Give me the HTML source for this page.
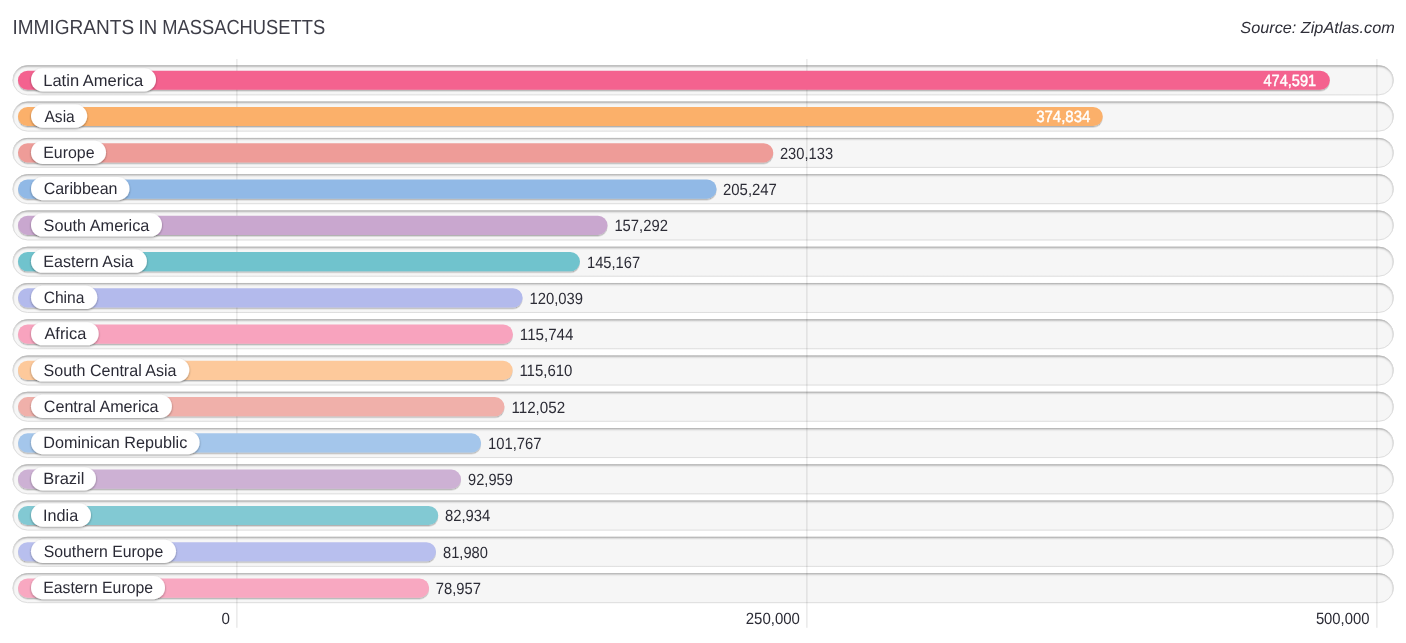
<!DOCTYPE html>
<html lang="en"><head><meta charset="utf-8"><title>Immigrants in Massachusetts</title>
<style>
html,body{margin:0;padding:0;background:#fff;}
body{width:1406px;height:643px;overflow:hidden;}
svg{display:block;font-family:"Liberation Sans",Arial,sans-serif;text-rendering:geometricPrecision;}
.t{font-size:20.4px;fill:#3e3e48;}
.s{font-size:16px;font-style:italic;fill:#2e2e38;}
.l{font-size:16.5px;fill:#2b2b36;}
.v{font-size:16.2px;fill:#2c2c36;}
.w{font-size:16.2px;fill:#fff;stroke:#fff;stroke-width:0.45px;}
</style></head><body>
<svg width="1406" height="643" viewBox="0 0 1406 643">
<defs>
<filter id="bs" x="-2%" y="-30%" width="104%" height="170%"><feDropShadow dx="0" dy="1.4" stdDeviation="0.7" flood-color="#000" flood-opacity="0.28"/></filter>
<filter id="ps" x="-5%" y="-30%" width="110%" height="170%"><feDropShadow dx="0" dy="1" stdDeviation="0.8" flood-color="#000" flood-opacity="0.4"/></filter>
<filter id="bl" x="-2%" y="-50%" width="104%" height="200%"><feGaussianBlur stdDeviation="0.9"/></filter>
<linearGradient id="tg" x1="0" y1="0" x2="0" y2="1"><stop offset="0" stop-color="#b9b9b9"/><stop offset="0.07" stop-color="#c6c6c6"/><stop offset="0.22" stop-color="#d9d9d9"/><stop offset="1" stop-color="#dedede"/></linearGradient>
<clipPath id="tc"><rect x="12.6" y="0" width="1381.1" height="30" rx="15"/></clipPath>
</defs>

<text class="t" y="34"><tspan id="t0" x="12.48" textLength="121.62" lengthAdjust="spacingAndGlyphs">IMMIGRANTS</tspan> <tspan id="t1" x="138.57" textLength="18.63" lengthAdjust="spacingAndGlyphs">IN</tspan> <tspan id="t2" x="162.24" textLength="162.91" lengthAdjust="spacingAndGlyphs">MASSACHUSETTS</tspan></text>
<text class="s" id="src" x="1240.33" y="32.85" textLength="154.37" lengthAdjust="spacingAndGlyphs">Source: ZipAtlas.com</text>
<g transform="translate(0 65.35)"><rect x="12.6" y="0" width="1381.1" height="30.0" rx="15" fill="#f6f6f6"/><g clip-path="url(#tc)"><rect x="11.1" y="-0.3" width="1384.1" height="40" rx="16" fill="none" stroke="#000" stroke-opacity="0.3" stroke-width="3" filter="url(#bl)"/></g><rect x="13.1" y="0.5" width="1380.1" height="29.0" rx="14.5" fill="none" stroke="url(#tg)"/></g>
<g transform="translate(0 101.62)"><rect x="12.6" y="0" width="1381.1" height="30.0" rx="15" fill="#f6f6f6"/><g clip-path="url(#tc)"><rect x="11.1" y="-0.3" width="1384.1" height="40" rx="16" fill="none" stroke="#000" stroke-opacity="0.3" stroke-width="3" filter="url(#bl)"/></g><rect x="13.1" y="0.5" width="1380.1" height="29.0" rx="14.5" fill="none" stroke="url(#tg)"/></g>
<g transform="translate(0 137.89)"><rect x="12.6" y="0" width="1381.1" height="30.0" rx="15" fill="#f6f6f6"/><g clip-path="url(#tc)"><rect x="11.1" y="-0.3" width="1384.1" height="40" rx="16" fill="none" stroke="#000" stroke-opacity="0.3" stroke-width="3" filter="url(#bl)"/></g><rect x="13.1" y="0.5" width="1380.1" height="29.0" rx="14.5" fill="none" stroke="url(#tg)"/></g>
<g transform="translate(0 174.16)"><rect x="12.6" y="0" width="1381.1" height="30.0" rx="15" fill="#f6f6f6"/><g clip-path="url(#tc)"><rect x="11.1" y="-0.3" width="1384.1" height="40" rx="16" fill="none" stroke="#000" stroke-opacity="0.3" stroke-width="3" filter="url(#bl)"/></g><rect x="13.1" y="0.5" width="1380.1" height="29.0" rx="14.5" fill="none" stroke="url(#tg)"/></g>
<g transform="translate(0 210.43)"><rect x="12.6" y="0" width="1381.1" height="30.0" rx="15" fill="#f6f6f6"/><g clip-path="url(#tc)"><rect x="11.1" y="-0.3" width="1384.1" height="40" rx="16" fill="none" stroke="#000" stroke-opacity="0.3" stroke-width="3" filter="url(#bl)"/></g><rect x="13.1" y="0.5" width="1380.1" height="29.0" rx="14.5" fill="none" stroke="url(#tg)"/></g>
<g transform="translate(0 246.70)"><rect x="12.6" y="0" width="1381.1" height="30.0" rx="15" fill="#f6f6f6"/><g clip-path="url(#tc)"><rect x="11.1" y="-0.3" width="1384.1" height="40" rx="16" fill="none" stroke="#000" stroke-opacity="0.3" stroke-width="3" filter="url(#bl)"/></g><rect x="13.1" y="0.5" width="1380.1" height="29.0" rx="14.5" fill="none" stroke="url(#tg)"/></g>
<g transform="translate(0 282.97)"><rect x="12.6" y="0" width="1381.1" height="30.0" rx="15" fill="#f6f6f6"/><g clip-path="url(#tc)"><rect x="11.1" y="-0.3" width="1384.1" height="40" rx="16" fill="none" stroke="#000" stroke-opacity="0.3" stroke-width="3" filter="url(#bl)"/></g><rect x="13.1" y="0.5" width="1380.1" height="29.0" rx="14.5" fill="none" stroke="url(#tg)"/></g>
<g transform="translate(0 319.24)"><rect x="12.6" y="0" width="1381.1" height="30.0" rx="15" fill="#f6f6f6"/><g clip-path="url(#tc)"><rect x="11.1" y="-0.3" width="1384.1" height="40" rx="16" fill="none" stroke="#000" stroke-opacity="0.3" stroke-width="3" filter="url(#bl)"/></g><rect x="13.1" y="0.5" width="1380.1" height="29.0" rx="14.5" fill="none" stroke="url(#tg)"/></g>
<g transform="translate(0 355.51)"><rect x="12.6" y="0" width="1381.1" height="30.0" rx="15" fill="#f6f6f6"/><g clip-path="url(#tc)"><rect x="11.1" y="-0.3" width="1384.1" height="40" rx="16" fill="none" stroke="#000" stroke-opacity="0.3" stroke-width="3" filter="url(#bl)"/></g><rect x="13.1" y="0.5" width="1380.1" height="29.0" rx="14.5" fill="none" stroke="url(#tg)"/></g>
<g transform="translate(0 391.78)"><rect x="12.6" y="0" width="1381.1" height="30.0" rx="15" fill="#f6f6f6"/><g clip-path="url(#tc)"><rect x="11.1" y="-0.3" width="1384.1" height="40" rx="16" fill="none" stroke="#000" stroke-opacity="0.3" stroke-width="3" filter="url(#bl)"/></g><rect x="13.1" y="0.5" width="1380.1" height="29.0" rx="14.5" fill="none" stroke="url(#tg)"/></g>
<g transform="translate(0 428.05)"><rect x="12.6" y="0" width="1381.1" height="30.0" rx="15" fill="#f6f6f6"/><g clip-path="url(#tc)"><rect x="11.1" y="-0.3" width="1384.1" height="40" rx="16" fill="none" stroke="#000" stroke-opacity="0.3" stroke-width="3" filter="url(#bl)"/></g><rect x="13.1" y="0.5" width="1380.1" height="29.0" rx="14.5" fill="none" stroke="url(#tg)"/></g>
<g transform="translate(0 464.32)"><rect x="12.6" y="0" width="1381.1" height="30.0" rx="15" fill="#f6f6f6"/><g clip-path="url(#tc)"><rect x="11.1" y="-0.3" width="1384.1" height="40" rx="16" fill="none" stroke="#000" stroke-opacity="0.3" stroke-width="3" filter="url(#bl)"/></g><rect x="13.1" y="0.5" width="1380.1" height="29.0" rx="14.5" fill="none" stroke="url(#tg)"/></g>
<g transform="translate(0 500.59)"><rect x="12.6" y="0" width="1381.1" height="30.0" rx="15" fill="#f6f6f6"/><g clip-path="url(#tc)"><rect x="11.1" y="-0.3" width="1384.1" height="40" rx="16" fill="none" stroke="#000" stroke-opacity="0.3" stroke-width="3" filter="url(#bl)"/></g><rect x="13.1" y="0.5" width="1380.1" height="29.0" rx="14.5" fill="none" stroke="url(#tg)"/></g>
<g transform="translate(0 536.86)"><rect x="12.6" y="0" width="1381.1" height="30.0" rx="15" fill="#f6f6f6"/><g clip-path="url(#tc)"><rect x="11.1" y="-0.3" width="1384.1" height="40" rx="16" fill="none" stroke="#000" stroke-opacity="0.3" stroke-width="3" filter="url(#bl)"/></g><rect x="13.1" y="0.5" width="1380.1" height="29.0" rx="14.5" fill="none" stroke="url(#tg)"/></g>
<g transform="translate(0 573.13)"><rect x="12.6" y="0" width="1381.1" height="30.0" rx="15" fill="#f6f6f6"/><g clip-path="url(#tc)"><rect x="11.1" y="-0.3" width="1384.1" height="40" rx="16" fill="none" stroke="#000" stroke-opacity="0.3" stroke-width="3" filter="url(#bl)"/></g><rect x="13.1" y="0.5" width="1380.1" height="29.0" rx="14.5" fill="none" stroke="url(#tg)"/></g>
<rect x="236.4" y="59" width="1" height="568.8" fill="#000" fill-opacity="0.13"/>
<rect x="806.4" y="59" width="1" height="568.8" fill="#000" fill-opacity="0.13"/>
<rect x="1376.4" y="59" width="1" height="568.8" fill="#000" fill-opacity="0.13"/>
<rect x="18" y="70.65" width="1311.8" height="19.2" rx="9.6" fill="#f4628f" filter="url(#bs)"/>
<rect x="18" y="106.92" width="1084.7" height="19.2" rx="9.6" fill="#fbb06a" filter="url(#bs)"/>
<rect x="18" y="143.19" width="755.3" height="19.2" rx="9.6" fill="#ee9c98" filter="url(#bs)"/>
<rect x="18" y="179.46" width="698.6" height="19.2" rx="9.6" fill="#91b9e6" filter="url(#bs)"/>
<rect x="18" y="215.73" width="589.5" height="19.2" rx="9.6" fill="#c9a7cf" filter="url(#bs)"/>
<rect x="18" y="252.00" width="561.9" height="19.2" rx="9.6" fill="#70c3cd" filter="url(#bs)"/>
<rect x="18" y="288.27" width="504.6" height="19.2" rx="9.6" fill="#b3baec" filter="url(#bs)"/>
<rect x="18" y="324.54" width="494.9" height="19.2" rx="9.6" fill="#f8a3be" filter="url(#bs)"/>
<rect x="18" y="360.81" width="494.6" height="19.2" rx="9.6" fill="#fdc99b" filter="url(#bs)"/>
<rect x="18" y="397.08" width="486.5" height="19.2" rx="9.6" fill="#f0b0aa" filter="url(#bs)"/>
<rect x="18" y="433.35" width="463.1" height="19.2" rx="9.6" fill="#a4c6eb" filter="url(#bs)"/>
<rect x="18" y="469.62" width="443.0" height="19.2" rx="9.6" fill="#cdb1d4" filter="url(#bs)"/>
<rect x="18" y="505.89" width="420.2" height="19.2" rx="9.6" fill="#82c9d3" filter="url(#bs)"/>
<rect x="18" y="542.16" width="418.0" height="19.2" rx="9.6" fill="#b8bfee" filter="url(#bs)"/>
<rect x="18" y="578.43" width="411.1" height="19.2" rx="9.6" fill="#f8a8c1" filter="url(#bs)"/>
<rect x="31" y="68.25" width="125.0" height="23.2" rx="11.6" fill="#fff" filter="url(#ps)"/>
<text class="l" id="l0" x="43.26" y="86.00" textLength="100.06" lengthAdjust="spacingAndGlyphs">Latin America</text>
<text class="w" id="v0" x="1263.47" y="86.00" textLength="52.62" lengthAdjust="spacingAndGlyphs">474,591</text>
<rect x="31" y="104.52" width="56.2" height="23.2" rx="11.6" fill="#fff" filter="url(#ps)"/>
<text class="l" id="l1" x="44.50" y="122.00" textLength="30.25" lengthAdjust="spacingAndGlyphs">Asia</text>
<text class="w" id="v1" x="1036.13" y="122.00" textLength="54.31" lengthAdjust="spacingAndGlyphs">374,834</text>
<rect x="31" y="140.79" width="75.0" height="23.2" rx="11.6" fill="#fff" filter="url(#ps)"/>
<text class="l" id="l2" x="43.25" y="158.00" textLength="51.33" lengthAdjust="spacingAndGlyphs">Europe</text>
<text class="v" id="v2" x="779.95" y="159.00" textLength="53.16" lengthAdjust="spacingAndGlyphs">230,133</text>
<rect x="31" y="177.06" width="98.5" height="23.2" rx="11.6" fill="#fff" filter="url(#ps)"/>
<text class="l" id="l3" x="43.66" y="194.00" textLength="73.87" lengthAdjust="spacingAndGlyphs">Caribbean</text>
<text class="v" id="v3" x="723.03" y="195.00" textLength="53.88" lengthAdjust="spacingAndGlyphs">205,247</text>
<rect x="31" y="213.33" width="131.0" height="23.2" rx="11.6" fill="#fff" filter="url(#ps)"/>
<text class="l" id="l4" x="43.62" y="231.00" textLength="105.81" lengthAdjust="spacingAndGlyphs">South America</text>
<text class="v" id="v4" x="614.39" y="231.00" textLength="53.48" lengthAdjust="spacingAndGlyphs">157,292</text>
<rect x="31" y="249.60" width="115.9" height="23.2" rx="11.6" fill="#fff" filter="url(#ps)"/>
<text class="l" id="l5" x="43.34" y="267.00" textLength="90.15" lengthAdjust="spacingAndGlyphs">Eastern Asia</text>
<text class="v" id="v5" x="587.00" y="268.00" textLength="53.04" lengthAdjust="spacingAndGlyphs">145,167</text>
<rect x="31" y="285.87" width="66.3" height="23.2" rx="11.6" fill="#fff" filter="url(#ps)"/>
<text class="l" id="l6" x="43.68" y="303.00" textLength="40.79" lengthAdjust="spacingAndGlyphs">China</text>
<text class="v" id="v6" x="529.41" y="304.00" textLength="53.58" lengthAdjust="spacingAndGlyphs">120,039</text>
<rect x="31" y="322.14" width="67.7" height="23.2" rx="11.6" fill="#fff" filter="url(#ps)"/>
<text class="l" id="l7" x="44.45" y="339.00" textLength="41.81" lengthAdjust="spacingAndGlyphs">Africa</text>
<text class="v" id="v7" x="519.86" y="340.00" textLength="53.49" lengthAdjust="spacingAndGlyphs">115,744</text>
<rect x="31" y="358.41" width="158.3" height="23.2" rx="11.6" fill="#fff" filter="url(#ps)"/>
<text class="l" id="l8" x="43.57" y="376.00" textLength="132.95" lengthAdjust="spacingAndGlyphs">South Central Asia</text>
<text class="v" id="v8" x="519.39" y="376.00" textLength="53.06" lengthAdjust="spacingAndGlyphs">115,610</text>
<rect x="31" y="394.68" width="140.9" height="23.2" rx="11.6" fill="#fff" filter="url(#ps)"/>
<text class="l" id="l9" x="43.74" y="412.00" textLength="114.88" lengthAdjust="spacingAndGlyphs">Central America</text>
<text class="v" id="v9" x="511.40" y="413.00" textLength="53.72" lengthAdjust="spacingAndGlyphs">112,052</text>
<rect x="31" y="430.95" width="168.6" height="23.2" rx="11.6" fill="#fff" filter="url(#ps)"/>
<text class="l" id="l10" x="43.35" y="448.00" textLength="143.90" lengthAdjust="spacingAndGlyphs">Dominican Republic</text>
<text class="v" id="v10" x="488.00" y="449.00" textLength="53.50" lengthAdjust="spacingAndGlyphs">101,767</text>
<rect x="31" y="467.22" width="65.0" height="23.2" rx="11.6" fill="#fff" filter="url(#ps)"/>
<text class="l" id="l11" x="43.20" y="484.00" textLength="41.15" lengthAdjust="spacingAndGlyphs">Brazil</text>
<text class="v" id="v11" x="468.12" y="485.00" textLength="44.68" lengthAdjust="spacingAndGlyphs">92,959</text>
<rect x="31" y="503.49" width="60.0" height="23.2" rx="11.6" fill="#fff" filter="url(#ps)"/>
<text class="l" id="l12" x="43.08" y="521.00" textLength="35.12" lengthAdjust="spacingAndGlyphs">India</text>
<text class="v" id="v12" x="444.98" y="521.00" textLength="45.39" lengthAdjust="spacingAndGlyphs">82,934</text>
<rect x="31" y="539.76" width="145.0" height="23.2" rx="11.6" fill="#fff" filter="url(#ps)"/>
<text class="l" id="l13" x="43.66" y="557.00" textLength="119.54" lengthAdjust="spacingAndGlyphs">Southern Europe</text>
<text class="v" id="v13" x="443.05" y="558.00" textLength="44.84" lengthAdjust="spacingAndGlyphs">81,980</text>
<rect x="31" y="576.03" width="134.0" height="23.2" rx="11.6" fill="#fff" filter="url(#ps)"/>
<text class="l" id="l14" x="43.22" y="593.00" textLength="109.79" lengthAdjust="spacingAndGlyphs">Eastern Europe</text>
<text class="v" id="v14" x="435.83" y="594.00" textLength="45.19" lengthAdjust="spacingAndGlyphs">78,957</text>
<text class="v" id="a0" x="221.46" y="624.00" textLength="8.43" lengthAdjust="spacingAndGlyphs">0</text>
<text class="v" id="a1" x="745.78" y="624.00" textLength="54.15" lengthAdjust="spacingAndGlyphs">250,000</text>
<text class="v" id="a2" x="1315.88" y="624.00" textLength="53.62" lengthAdjust="spacingAndGlyphs">500,000</text>
</svg>
</body></html>
